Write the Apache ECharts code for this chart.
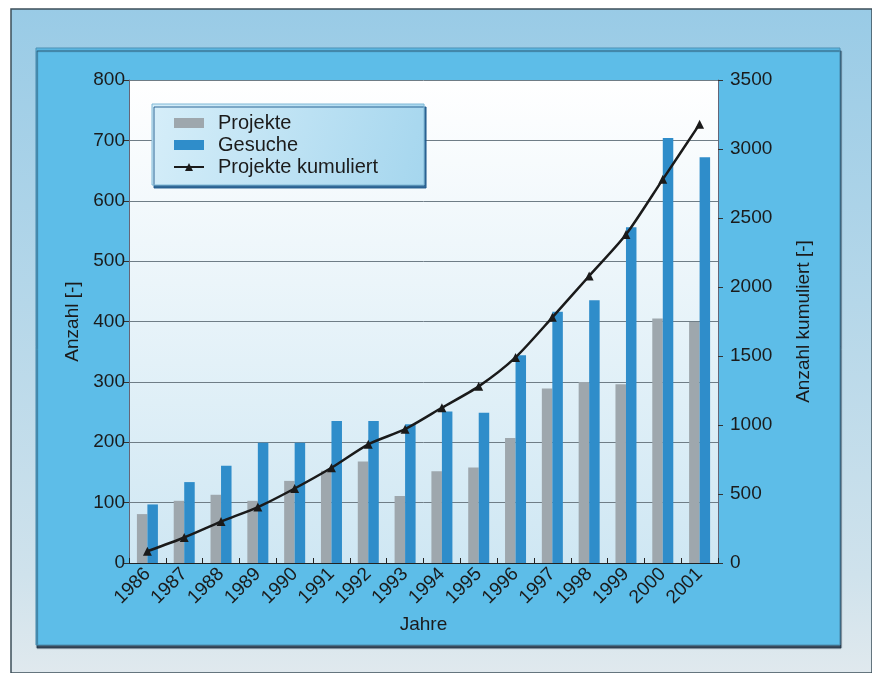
<!DOCTYPE html>
<html>
<head>
<meta charset="utf-8">
<script src="https://cdn.jsdelivr.net/npm/echarts@6/dist/echarts.min.js"></script>
<style>
html,body{margin:0;padding:0;background:#fff;}
#chart{width:872px;height:673px;}
</style>
</head>
<body>
<div id="chart"></div>
<script>
const years = ['1986','1987','1988','1989','1990','1991','1992','1993','1994','1995','1996','1997','1998','1999','2000','2001'];
const projekte = [81,103,113,103,136,153,168,111,152,158,207,289,300,296,405,399];
const gesuche = [97,134,161,199,199,235,235,230,251,249,344,416,435,556,704,672];
const kumuliert = [85,185,300,405,540,690,860,970,1125,1280,1490,1780,2080,2380,2780,3180];
const leftTicks = {min:0, max:800, interval:100};
const rightTicks = {min:0, max:3500, interval:500};

const FONT = "'Liberation Sans', Arial, Helvetica, sans-serif";
const TXT = '#1b1b1b';

const chart = echarts.init(document.getElementById('chart'));
chart.setOption({
  backgroundColor: '#ffffff',
  textStyle: {fontFamily: FONT, color: TXT},
  graphic: [
    {type:'rect', z:-20, shape:{x:11, y:9, width:861, height:664},
     style:{fill:new echarts.graphic.LinearGradient(0,0,0,1,[{offset:0,color:'#99cbe6'},{offset:0.85,color:'#cfe2ec'},{offset:1,color:'#e0e9ee'}]), stroke:'#3d4f5a', lineWidth:1.5}},
    {type:'rect', z:-19, shape:{x:36, y:48, width:804, height:597},
     style:{fill:'#5dbde8', stroke:'#4a8fb3', lineWidth:1, shadowColor:'rgba(20,40,60,0.8)', shadowOffsetX:1, shadowOffsetY:3, shadowBlur:1}}
  ],
  grid: {
    left:129, right:154, top:80, bottom:110, show:true, borderWidth:0,
    backgroundColor: new echarts.graphic.LinearGradient(0,0,0,1,[{offset:0,color:'#ffffff'},{offset:1,color:'#cfe7f3'}])
  },
  legend: {
    orient:'vertical', left:152, top:104,
    padding:[9,46,8,21], itemGap:2, itemWidth:30, itemHeight:10,
    backgroundColor: new echarts.graphic.LinearGradient(0,0,1,1,[{offset:0,color:'#d6eef9'},{offset:1,color:'#a5d6ee'}]),
    borderColor:'#7fb8d6', borderWidth:1,
    shadowColor:'rgba(30,90,140,0.9)', shadowOffsetX:2, shadowOffsetY:3, shadowBlur:0,
    textStyle:{fontSize:20, lineHeight:20, color:TXT, fontFamily:FONT, padding:[0,0,0,9]},
    data:[
      {name:'Projekte', icon:'rect'},
      {name:'Gesuche', icon:'rect'},
      {name:'Projekte kumuliert'}
    ]
  },
  xAxis: {
    type:'category', data:years, boundaryGap:true,
    name:'Jahre', nameLocation:'middle', nameGap:52,
    nameTextStyle:{fontSize:19, color:TXT},
    axisLine:{lineStyle:{color:'#222', width:1}},
    axisTick:{show:true, alignWithLabel:false, length:5, inside:true, lineStyle:{color:'#222'}},
    axisLabel:{rotate:45, fontSize:19, color:TXT, margin:8, interval:0}
  },
  yAxis: [
    {
      type:'value', min:leftTicks.min, max:leftTicks.max, interval:leftTicks.interval,
      name:'Anzahl [-]', nameLocation:'middle', nameGap:45,
      nameTextStyle:{fontSize:19, color:TXT},
      axisLine:{show:true, lineStyle:{color:'#667', width:1}},
      axisTick:{show:true, length:5, lineStyle:{color:'#333'}},
      axisLabel:{fontSize:19, color:TXT, margin:4},
      splitLine:{show:true, lineStyle:{color:'#6f7d86', width:1}}
    },
    {
      type:'value', min:rightTicks.min, max:rightTicks.max, interval:rightTicks.interval,
      position:'right',
      name:'Anzahl kumuliert [-]', nameLocation:'middle', nameGap:76,
      nameTextStyle:{fontSize:19, color:TXT},
      axisLine:{show:true, lineStyle:{color:'#667', width:1}},
      axisTick:{show:true, length:5, lineStyle:{color:'#333'}},
      axisLabel:{fontSize:19, color:TXT, margin:12, formatter:function(v){return String(v);}},
      splitLine:{show:false}
    }
  ],
  series: [
    {name:'Projekte', type:'bar', data:projekte, barWidth:10.5, barGap:'0%',
     itemStyle:{color:'#9ea7ad'}},
    {name:'Gesuche', type:'bar', data:gesuche, barWidth:10.5, barGap:'0%',
     itemStyle:{color:'#2f8dca'}},
    {name:'Projekte kumuliert', type:'line', yAxisIndex:1, data:kumuliert,
     smooth:0.25, symbol:'triangle', symbolSize:9,
     lineStyle:{color:'#1a1a1a', width:2.5},
     itemStyle:{color:'#1a1a1a'}, z:5}
  ]
});
</script>
</body>
</html>
